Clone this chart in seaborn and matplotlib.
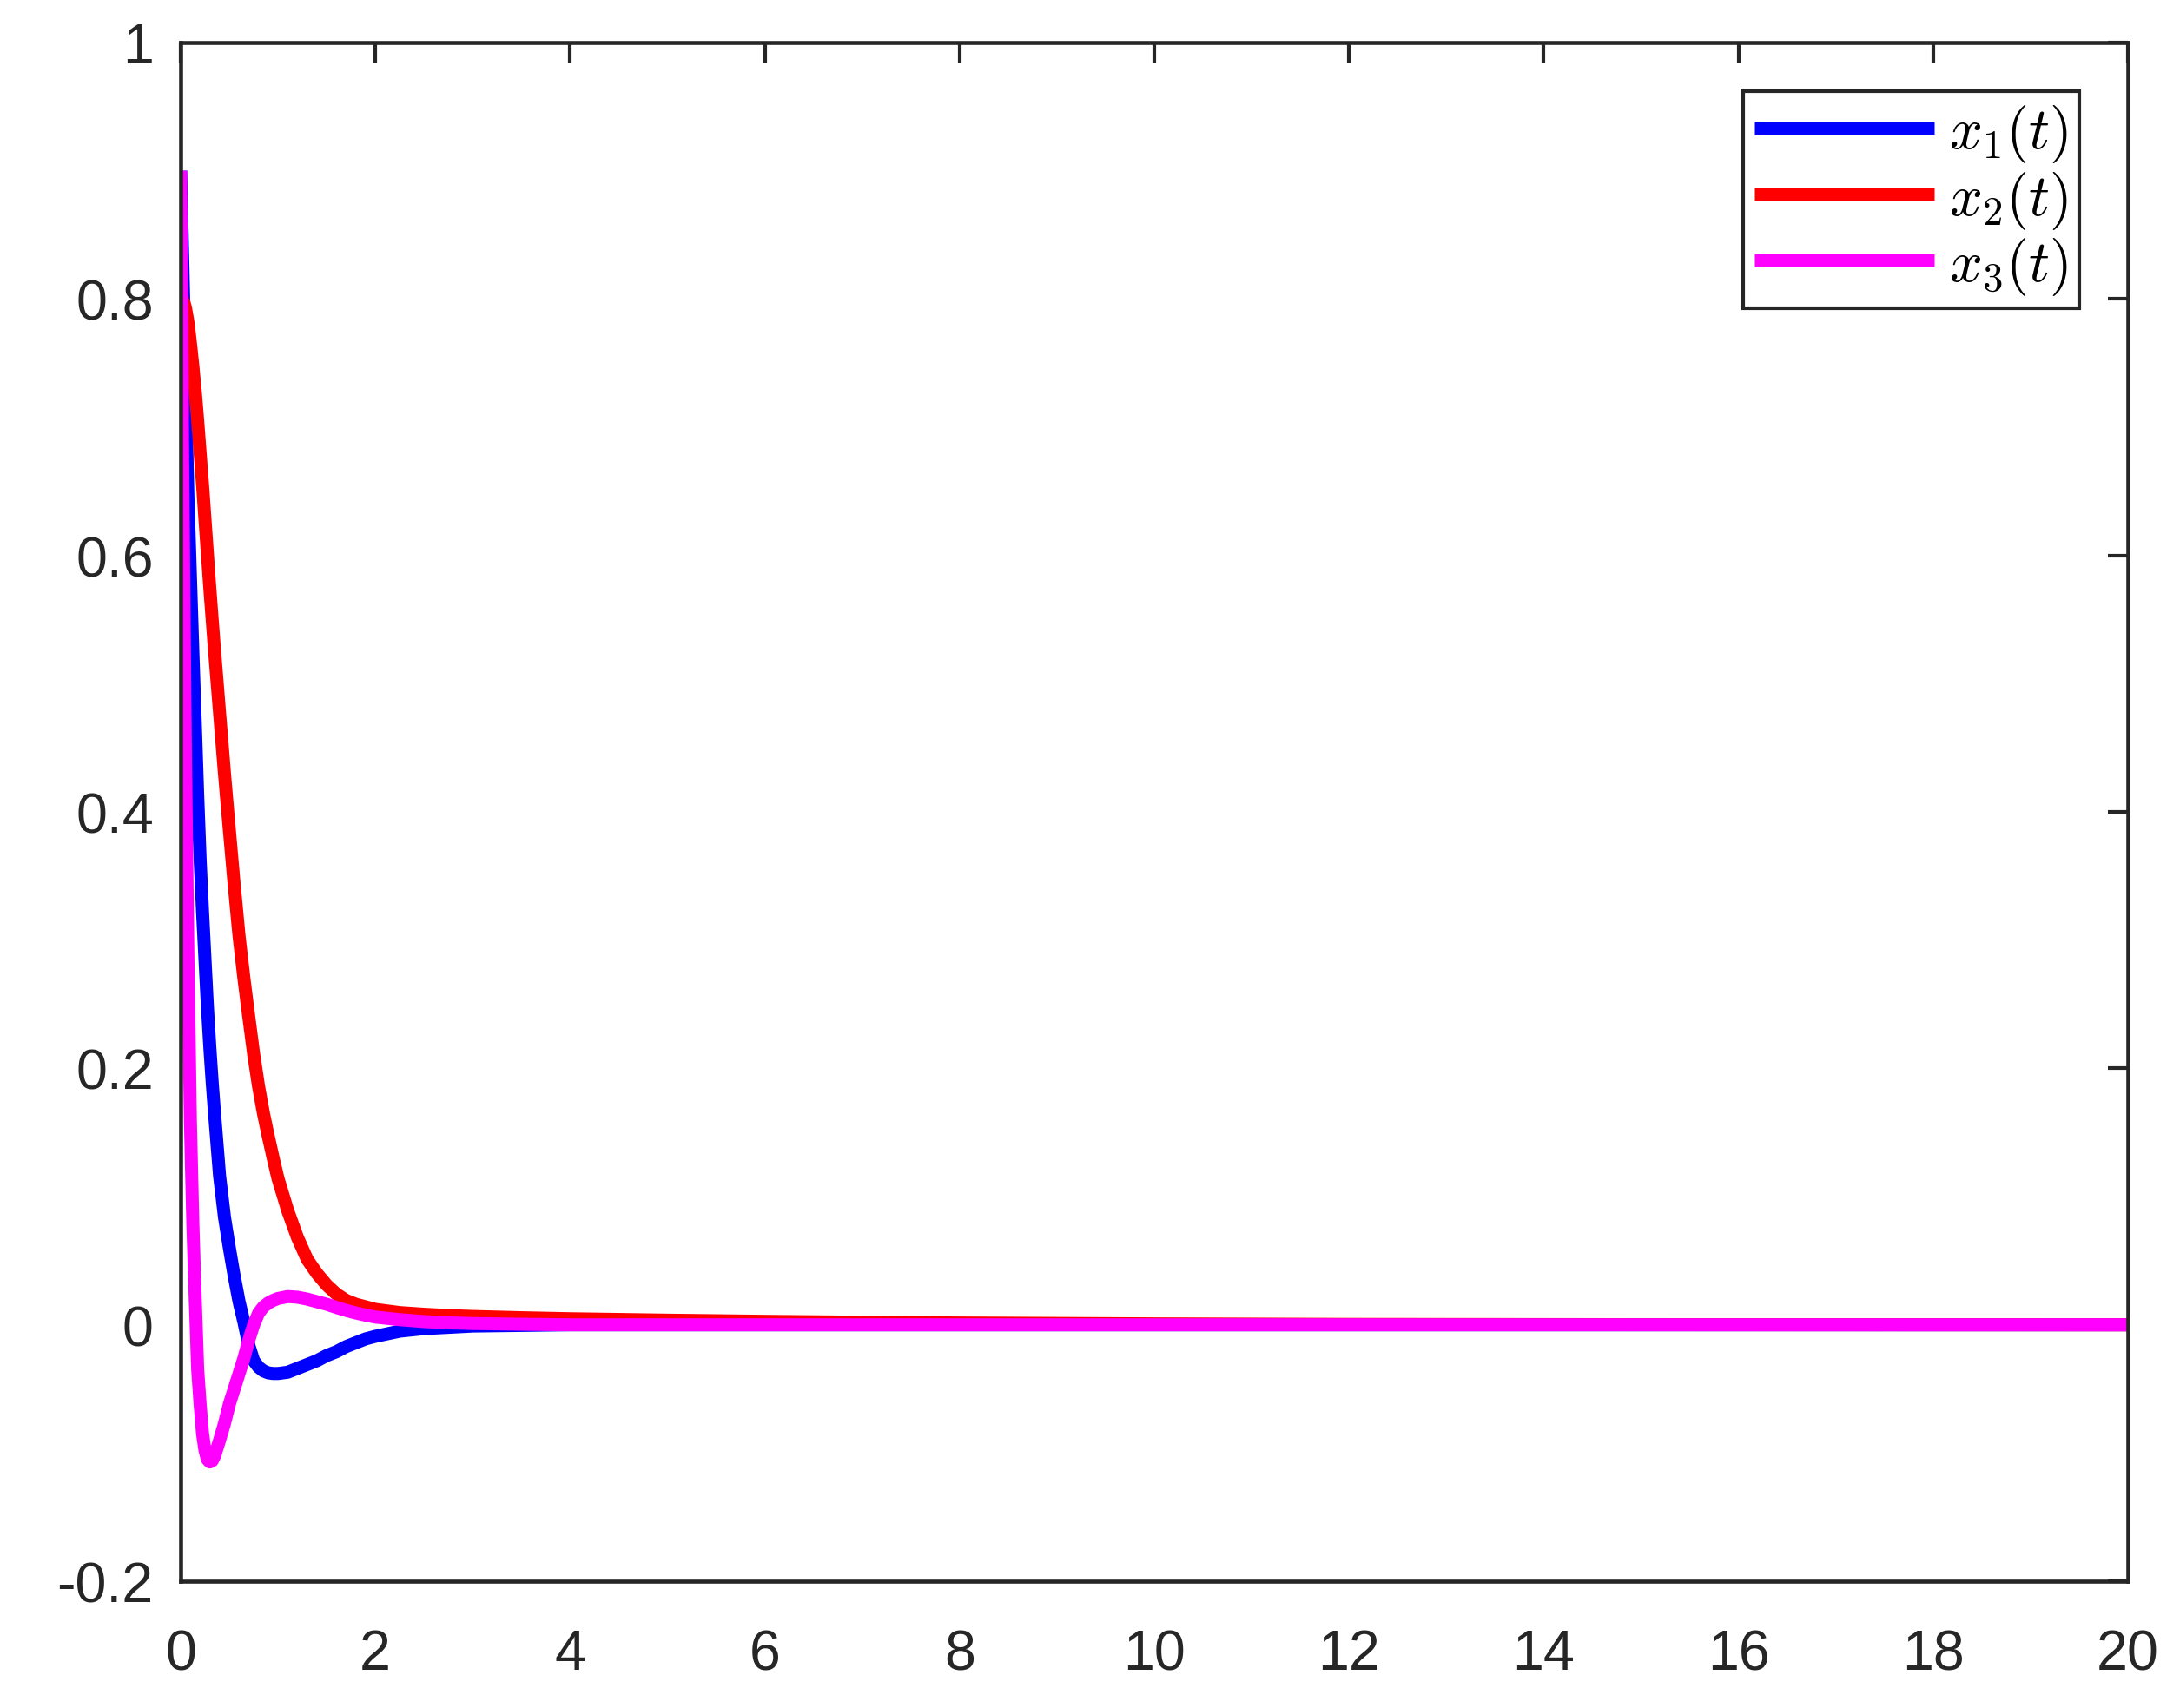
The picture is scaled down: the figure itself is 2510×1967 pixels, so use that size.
import numpy as np
import pandas as pd
import matplotlib
matplotlib.use("Agg")
import matplotlib.pyplot as plt
import seaborn as sns

# time samples (s) and state trajectories
t = [0, 0.01, 0.02, 0.035, 0.05, 0.075, 0.1, 0.125, 0.15, 0.175, 0.2, 0.225,
     0.25, 0.275, 0.3, 0.325, 0.35, 0.4, 0.45, 0.5, 0.55, 0.6, 0.65, 0.7,
     0.75, 0.8, 0.85, 0.9, 0.95, 1.0, 1.1, 1.2, 1.3, 1.4, 1.5, 1.6, 1.7, 1.8,
     1.9, 2.0, 2.25, 2.5, 2.75, 3.0, 3.5, 4, 5, 6, 7, 8, 10, 12, 15, 20]
x1 = [0.9, 0.868, 0.836, 0.785, 0.728, 0.645, 0.585, 0.526, 0.47, 0.413,
      0.363, 0.322, 0.285, 0.248, 0.216, 0.188, 0.163, 0.116, 0.084, 0.06,
      0.038, 0.018, 0.002, -0.016, -0.028, -0.033, -0.036, -0.0375, -0.038,
      -0.038, -0.037, -0.034, -0.031, -0.028, -0.024, -0.021, -0.017, -0.014,
      -0.011, -0.009, -0.005, -0.003, -0.002, -0.001, -0.0005, 0, 0, 0, 0, 0,
      0, 0, 0, 0]
x2 = [0.8, 0.8, 0.799, 0.797, 0.793, 0.782, 0.766, 0.748, 0.728, 0.705, 0.68,
      0.655, 0.628, 0.601, 0.574, 0.549, 0.524, 0.477, 0.43, 0.386, 0.343,
      0.303, 0.27, 0.24, 0.211, 0.186, 0.165, 0.147, 0.13, 0.114, 0.089,
      0.068, 0.051, 0.04, 0.031, 0.024, 0.019, 0.016, 0.014, 0.012, 0.0095,
      0.0082, 0.0072, 0.0065, 0.0055, 0.0047, 0.0036, 0.0027, 0.002, 0.0014,
      0.0007, 0.0003, 0.0001, 0]
x3 = [0.9, 0.8, 0.685, 0.555, 0.44, 0.285, 0.16, 0.08, 0.02, -0.035, -0.062,
      -0.085, -0.098, -0.105, -0.107, -0.106, -0.102, -0.09, -0.077, -0.062,
      -0.05, -0.038, -0.026, -0.012, 0.0, 0.009, 0.014, 0.017, 0.019, 0.0205,
      0.022, 0.0215, 0.02, 0.018, 0.016, 0.0135, 0.0112, 0.0092, 0.0075,
      0.006, 0.004, 0.0025, 0.0015, 0.001, 0.0004, 0, 0, 0, 0, 0, 0, 0, 0, 0]

labels = [r"$x_1(t)$", r"$x_2(t)$", r"$x_3(t)$"]
colors = ["#0000ff", "#ff0000", "#ff00ff"]

xticks = [0, 2, 4, 6, 8, 10, 12, 14, 16, 18, 20]
yticks = [-0.2, 0, 0.2, 0.4, 0.6, 0.8, 1]
ytick_labels = ["-0.2", "0", "0.2", "0.4", "0.6", "0.8", "1"]

sns.set_style("white")
plt.rcParams["font.family"] = ["Liberation Sans", "DejaVu Sans"]
plt.rcParams["mathtext.fontset"] = "cm"

axcol = "#262626"

fig = plt.figure(figsize=(2510 / 300, 1968 / 300), dpi=300)
ax = fig.add_axes([208 / 2510, 1 - 1822 / 1968, (2450 - 208) / 2510, (1822 - 50) / 1968])

for y, lab, col in zip([x1, x2, x3], labels, colors):
    sns.lineplot(x=t, y=y, ax=ax, color=col, linewidth=3.6, label=lab,
                 estimator=None, solid_capstyle="butt", solid_joinstyle="round")

ax.set_xlim(0, 20)
ax.set_ylim(-0.2, 1)
ax.set_xticks(xticks)
ax.set_xticklabels([str(v) for v in xticks])
ax.set_yticks(yticks)
ax.set_yticklabels(ytick_labels)

for sp in ax.spines.values():
    sp.set_visible(True)
    sp.set_color(axcol)
    sp.set_linewidth(1.1)

ax.tick_params(axis="both", direction="in", length=5.6, width=1.0, color=axcol,
               labelcolor=axcol, labelsize=15.5, top=True, right=True)
ax.tick_params(axis="x", pad=13)
ax.tick_params(axis="y", pad=7.5)

leg = ax.legend(loc="upper right", bbox_to_anchor=(0.975, 0.9684), borderaxespad=0,
                fontsize=16, handlelength=3.1, handletextpad=0.25, labelspacing=0.08,
                borderpad=0.2, fancybox=False, framealpha=1, edgecolor=axcol)
leg.get_frame().set_linewidth(1.0)
for txt in leg.get_texts():
    txt.set_color("black")

ax.set_xlabel("")
ax.set_ylabel("")

fig.savefig("out.png", dpi=300)
